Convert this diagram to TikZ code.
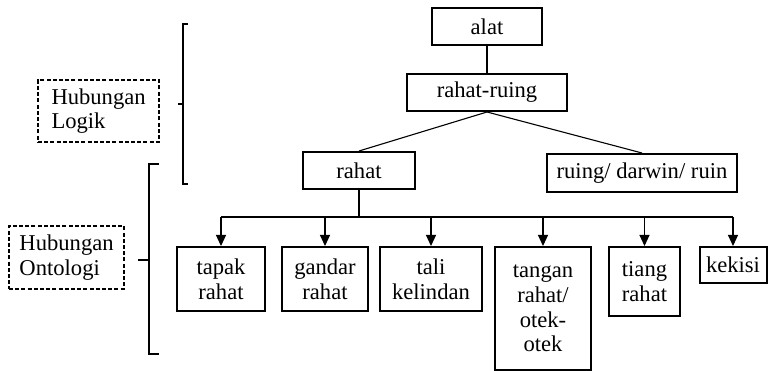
\documentclass[tikz,border=0pt]{standalone}
\usepackage{fontspec}
\setmainfont{Liberation Serif}
\usetikzlibrary{arrows.meta}

\begin{document}
\begin{tikzpicture}[x=1pt,y=-1pt,
  kotak/.style={draw, line width=2pt, align=center, inner sep=0pt,
    font=\fontsize{22.6}{24.7}\selectfont},
  putus/.style={draw, line width=1.4pt, dash pattern=on 4pt off 2.2pt,
    align=left, inner sep=0pt, text width=94,
    font=\fontsize{22.6}{24.7}\selectfont},
  garis/.style={line width=1.1pt},
  panah/.style={garis, -{Triangle[length=11pt,width=10pt]}}]
\useasboundingbox (0,0) rectangle (768,371);

\node[kotak, minimum width=110, minimum height=37] (alat) at (487,26.5) {alat};
\node[kotak, minimum width=160, minimum height=37] (rahatruing) at (487,92.5) {rahat-ruing};
\node[kotak, minimum width=112, minimum height=37] (rahat) at (359,170.5) {rahat};
\node[kotak, minimum width=190, minimum height=38] (ruing) at (642,173) {ruing/ darwin/ ruin};

\node[kotak, minimum width=88, minimum height=64] (tapak) at (221,279) {tapak\\rahat};
\node[kotak, minimum width=86, minimum height=64] (gandar) at (325,279) {gandar\\rahat};
\node[kotak, minimum width=102, minimum height=64] (tali) at (431,279) {tali\\kelindan};
\node[kotak, minimum width=96, minimum height=123] (tangan) at (543,308.5) {tangan\\rahat/\\otek-\\otek};
\node[kotak, minimum width=71, minimum height=69] (tiang) at (644.5,281.5) {tiang\\rahat};
\node[kotak, minimum width=67, minimum height=36] (kekisi) at (733,265) {kekisi};

\node[putus, minimum width=121, minimum height=62] (logik) at (98.5,111) {Hubungan\\Logik};
\node[putus, minimum width=115, minimum height=63] (ontologi) at (66.5,257.5) {Hubungan\\Ontologi};

\draw[garis] (alat) -- (rahatruing);
\draw[garis] (rahatruing.south) -- (rahat.north);
\draw[garis] (rahatruing.south) -- (ruing.north);

\coordinate (cabang) at (363,217);
\draw[garis] (rahat.south) -- (rahat.south |- cabang);
\draw[garis] (tapak.north |- cabang) -- (kekisi.north |- cabang);
\foreach \anak in {tapak,gandar,tali,tangan,tiang,kekisi}
  \draw[panah] (\anak.north |- cabang) -- (\anak.north);

\draw[garis] (188,24) -- (183,24) -- (183,184) -- (188,184);
\draw[garis] (183,104) -- (178,104);
\draw[garis] (159,164) -- (149,164) -- (149,354) -- (159,354);
\draw[garis] (149,260) -- (138,260);
\end{tikzpicture}
\end{document}
